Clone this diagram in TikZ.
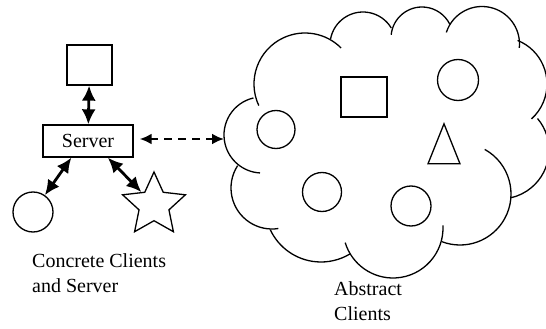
\documentclass[tikz,border=0pt]{standalone}
\usepackage{fontspec}
\setmainfont{Liberation Serif}
\usetikzlibrary{shapes.geometric,arrows.meta,positioning}
\tikzset
{
    boxnode/.style  = {rectangle, draw=black, line width=1.3pt, inner sep=0pt},
    circnode/.style = {circle, draw=black, line width=1.3pt, minimum size=40pt, inner sep=0pt},
    starnode/.style = {star, star points=5, star point ratio=2.1, draw=black, line width=1.3pt, minimum size=66pt, inner sep=0pt},
    trinode/.style  = {isosceles triangle, isosceles triangle stretches, shape border rotate=90, draw=black, line width=1.3pt, minimum height=40pt, minimum width=32pt, inner sep=0pt},
    puff/.style     = {draw=black, line width=1.3pt},
    link/.style     = {{Latex[length=15pt,width=14pt]}-{Latex[length=15pt,width=14pt]}, line width=2.8pt},
    dashlink/.style = {{Latex[length=12pt,width=11pt]}-{Latex[length=12pt,width=11pt]}, line width=2.4pt, dash pattern=on 8pt off 6pt},
    caption/.style  = {align=left, anchor=north west, inner sep=0pt, font=\fontsize{20}{25}\selectfont}
}
\begin{document}
\begin{tikzpicture}[x=1pt, y=-1pt]
\useasboundingbox (0,0) rectangle (546,329);
% concrete side
\node [boxnode, minimum width=45pt, minimum height=40pt] at (89.5,65) (top) {};
\node [boxnode, minimum width=90pt, minimum height=32pt, font=\fontsize{20}{24}\selectfont] at (88,141) (srv) {Server};
\node [circnode] at (33,212) (cc) {};
\node [starnode] at (154,205) (st) {};
% abstract side: cloud made of overlapping puffs (centre x/y, radius, from, to)
\foreach \cx/\cy/\r/\a/\b in {305/84/51/155/315, 363/45/33/190/329, 422/38/31/186/333,
    482/44/37.5/198/366, 500/84/47/292/408, 500/150/49/320/437, 460/194/51/299/471,
    393/228/50/357/523, 321/206/56/155/59, 272/188/41/213/81, 262/135/38/257/93}
    \draw [puff] (\cx,\cy) ++(\a:\r) arc [start angle=\a, end angle=\b, radius=\r];
\coordinate (cl) at (224,139);
\node [boxnode, minimum width=46pt, minimum height=40pt] at (364,97) (asq) {};
\node [circnode, minimum size=41pt] at (458,80) (ac1) {};
\node [circnode, minimum size=38pt] at (276,129.5) (ac2) {};
\node [circnode, minimum size=39pt] at (322,192) (ac3) {};
\node [circnode] at (411,206) (ac4) {};
\node [trinode] at (444,153) (atri) {};
% captions
\node [caption] at (32,253) (lbl1) {Concrete Clients\\and Server};
\node [caption] at (334,281) (lbl2) {Abstract\\Clients};
% links
\draw [link] (top) -- (srv);
\draw [link] (srv.-135) -- (cc);
\draw [link] (srv.-40) -- (st);
\draw [dashlink, shorten <=6pt] (srv.east |- cl) -- (cl);
\end{tikzpicture}
\end{document}
